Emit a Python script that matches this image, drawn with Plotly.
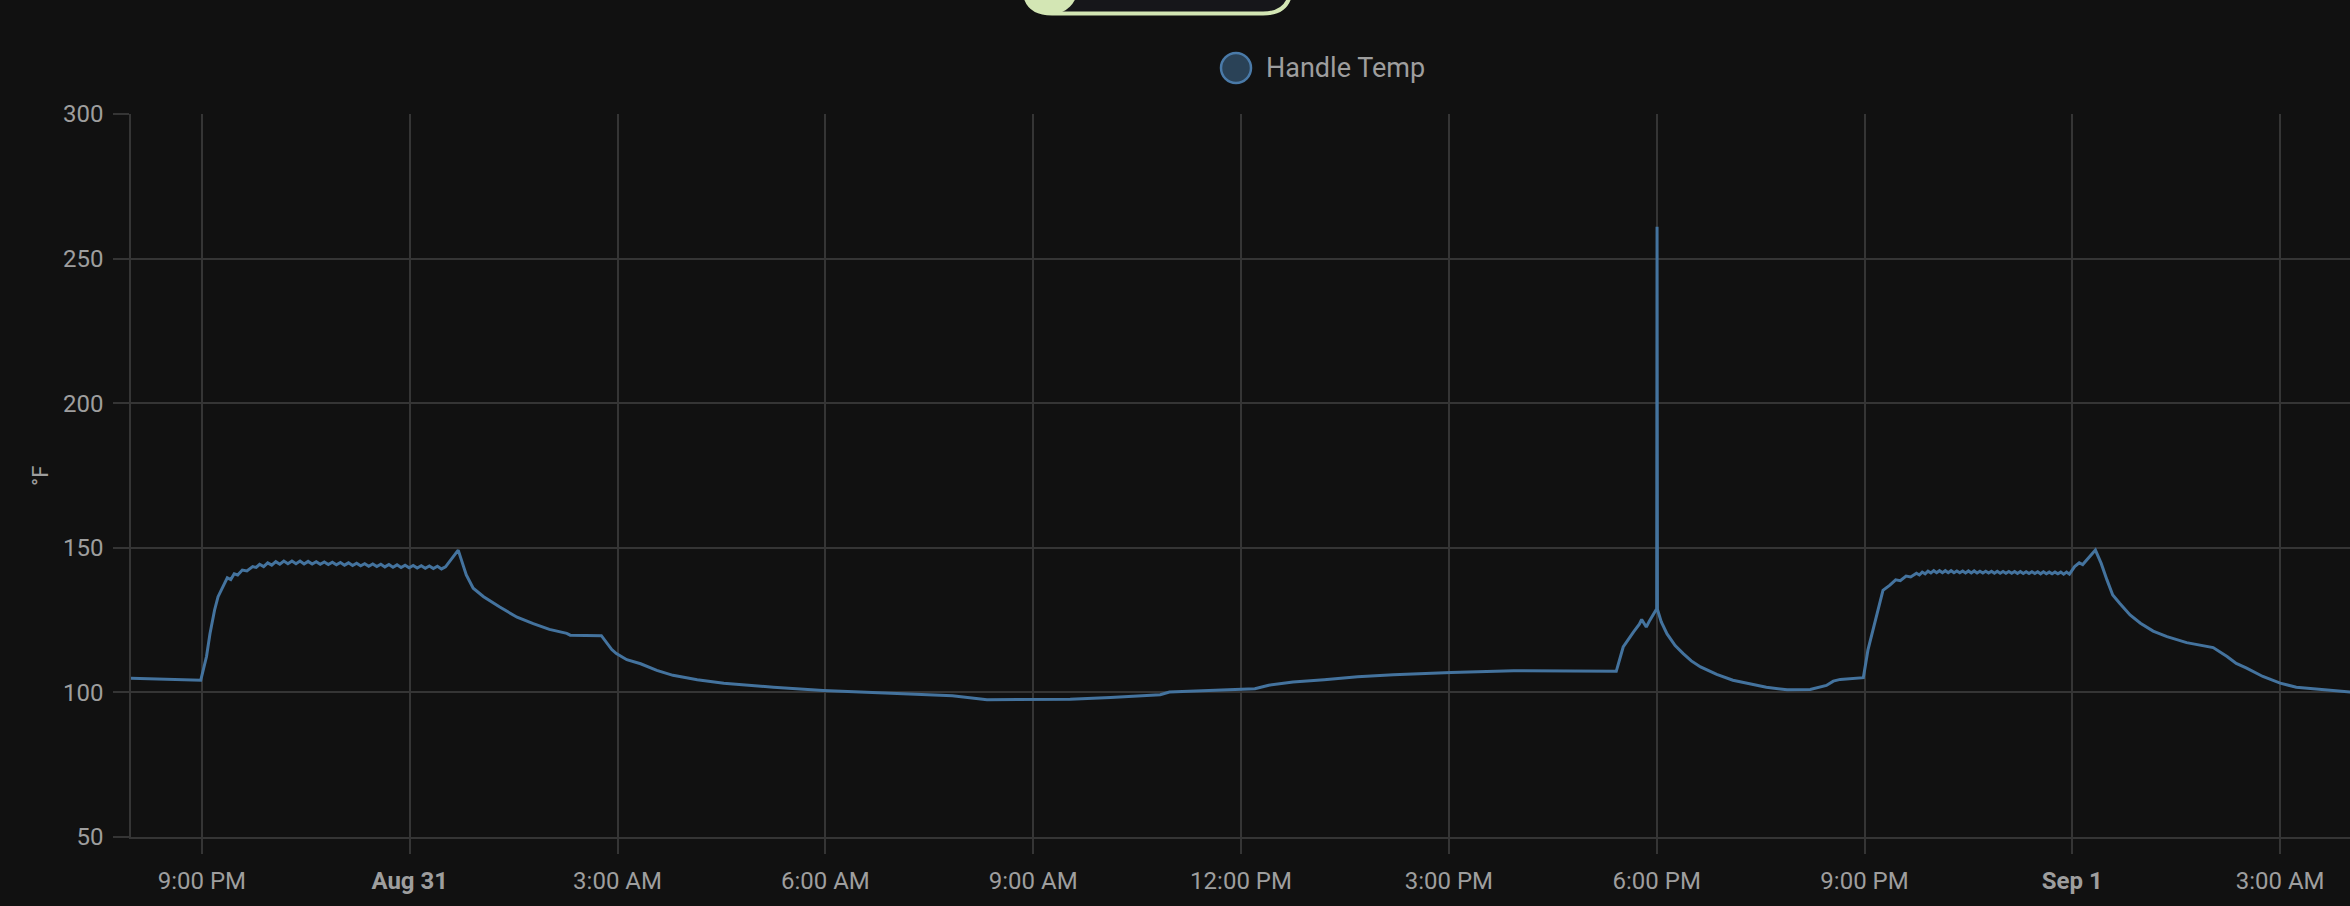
import plotly.graph_objects as go
import pandas as pd

# ---------------- data ----------------
anchor_times = [
    "2023-08-30 19:50", "2023-08-30 20:30", "2023-08-30 20:59", "2023-08-30 21:04",
    "2023-08-30 21:07", "2023-08-30 21:11", "2023-08-30 21:14",
    "2023-08-30 21:19", "2023-08-30 21:22", "2023-08-30 21:25",
    "2023-08-30 21:28", "2023-08-30 21:31", "2023-08-30 21:35", "2023-08-30 21:39",
    "2023-08-30 21:44", "2023-08-30 21:47",
    "2023-08-31 00:42", "2023-08-31 00:45", "2023-08-31 00:49", "2023-08-31 00:55",
    "2023-08-31 01:04", "2023-08-31 01:18", "2023-08-31 01:33", "2023-08-31 01:47",
    "2023-08-31 02:01", "2023-08-31 02:16", "2023-08-31 02:19", "2023-08-31 02:46",
    "2023-08-31 02:51", "2023-08-31 02:55", "2023-08-31 02:59", "2023-08-31 03:08",
    "2023-08-31 03:20", "2023-08-31 03:34", "2023-08-31 03:48", "2023-08-31 04:09",
    "2023-08-31 04:32", "2023-08-31 05:15", "2023-08-31 05:58", "2023-08-31 06:56",
    "2023-08-31 07:49", "2023-08-31 07:50", "2023-08-31 08:20",
    "2023-08-31 09:32", "2023-08-31 10:07", "2023-08-31 10:50", "2023-08-31 10:58",
    "2023-08-31 12:12", "2023-08-31 12:24", "2023-08-31 12:45", "2023-08-31 13:12",
    "2023-08-31 13:41", "2023-08-31 14:12",
    "2023-08-31 15:02", "2023-08-31 15:56", "2023-08-31 17:25", "2023-08-31 17:31",
    "2023-08-31 17:35", "2023-08-31 17:40", "2023-08-31 17:45", "2023-08-31 17:47",
    "2023-08-31 17:51", "2023-08-31 17:54",
    "2023-08-31 18:00:00", "2023-08-31 18:00:20", "2023-08-31 18:00:40",
    "2023-08-31 18:04", "2023-08-31 18:09", "2023-08-31 18:16", "2023-08-31 18:23",
    "2023-08-31 18:30", "2023-08-31 18:38", "2023-08-31 18:52", "2023-08-31 19:06",
    "2023-08-31 19:22", "2023-08-31 19:35", "2023-08-31 19:53", "2023-08-31 20:13",
    "2023-08-31 20:27", "2023-08-31 20:33", "2023-08-31 20:39", "2023-08-31 20:59",
    "2023-08-31 21:03", "2023-08-31 21:08", "2023-08-31 21:12", "2023-08-31 21:16",
    "2023-08-31 21:22", "2023-08-31 21:27", "2023-08-31 21:31", "2023-08-31 21:36",
    "2023-08-31 21:40",
    "2023-09-01 00:02", "2023-09-01 00:06", "2023-09-01 00:09", "2023-09-01 00:20",
    "2023-09-01 00:25", "2023-09-01 00:30", "2023-09-01 00:35", "2023-09-01 00:41",
    "2023-09-01 00:50", "2023-09-01 00:59", "2023-09-01 01:10", "2023-09-01 01:22",
    "2023-09-01 01:39", "2023-09-01 02:02", "2023-09-01 02:14", "2023-09-01 02:22",
    "2023-09-01 02:31", "2023-09-01 02:45", "2023-09-01 03:00", "2023-09-01 03:14",
    "2023-09-01 03:29", "2023-09-01 03:46", "2023-09-01 04:01", "2023-09-01 04:10",
]
anchor_temps = [
    105.0, 104.6, 104.2, 112.4,
    120.3, 128.5, 133.1,
    137.2, 139.6, 139.0,
    141.0, 140.6, 142.3, 142.0,
    143.5, 143.2,
    149.2, 145.5, 140.6, 136.0,
    133.1, 129.5, 126.0, 123.8,
    121.8, 120.4, 119.8, 119.6,
    116.8, 114.8, 113.4, 111.3,
    109.9, 107.6, 105.9, 104.4,
    103.2, 101.8, 100.7, 99.8,
    99.0, 98.8, 97.5,
    97.6, 98.2, 99.2, 100.1,
    101.3, 102.5, 103.6, 104.4,
    105.4, 106.1,
    106.9, 107.5, 107.3, 115.7,
    118.1, 120.9, 123.6, 125.2,
    122.6, 124.9,
    128.9, 261.0, 128.7,
    124.4, 120.2, 116.2, 113.4,
    110.9, 108.8, 106.2, 104.2,
    102.8, 101.8, 100.9, 101.0,
    102.4, 103.9, 104.5, 105.1,
    114.7, 122.6, 129.6, 135.3,
    137.1, 138.9, 138.6, 140.2,
    139.9,
    143.5, 144.8, 144.2, 149.2,
    144.6, 138.9, 133.7, 130.8,
    126.8, 123.9, 121.2, 119.3,
    117.2, 115.5, 112.4, 110.0,
    108.4, 105.5, 103.2, 101.8,
    101.2, 100.5, 100.0, 99.8,
]

# thermostat cycling on the first plateau (sampled every 3.5 min from 21:50)
plateau1_start = "2023-08-30 21:50"
plateau1_step = "210s"
plateau1_temps = [
    144.3, 143.5, 144.8, 144.0, 145.2, 144.3, 145.4, 144.5, 145.4, 144.5,
    145.4, 144.4, 145.3, 144.4, 145.2, 144.3, 145.1, 144.2, 145.0, 144.1,
    144.9, 144.0, 144.8, 143.9, 144.7, 143.8, 144.5, 143.6, 144.4, 143.5,
    144.3, 143.4, 144.2, 143.3, 144.1, 143.2, 144.0, 143.1, 143.9, 143.0,
    143.8, 142.9, 143.7, 142.8, 143.6, 142.7, 143.4,
]

# thermostat cycling on the second plateau (sampled every 2.5 min from 21:45)
plateau2_start = "2023-08-31 21:45"
plateau2_step = "150s"
plateau2_temps = [
    141.2, 140.6, 141.6, 141.0, 141.9, 141.3, 142.1, 141.4, 142.1, 141.4,
    142.1, 141.4, 142.1, 141.4, 142.0, 141.4, 142.0, 141.3, 142.0, 141.3,
    142.0, 141.3, 141.9, 141.3, 141.9, 141.3, 141.9, 141.2, 141.9, 141.2,
    141.8, 141.2, 141.8, 141.2, 141.8, 141.1, 141.8, 141.1, 141.7, 141.1,
    141.7, 141.1, 141.7, 141.0, 141.7, 141.0, 141.6, 141.0, 141.6, 141.0,
    141.6, 140.9, 141.6, 140.9,
]

tick_vals = [
    "2023-08-30 21:00", "2023-08-31 00:00", "2023-08-31 03:00", "2023-08-31 06:00",
    "2023-08-31 09:00", "2023-08-31 12:00", "2023-08-31 15:00", "2023-08-31 18:00",
    "2023-08-31 21:00", "2023-09-01 00:00", "2023-09-01 03:00",
]
tick_text = [
    "9:00 PM", "<b>Aug 31</b>", "3:00 AM", "6:00 AM", "9:00 AM", "12:00 PM",
    "3:00 PM", "6:00 PM", "9:00 PM", "<b>Sep 1</b>", "3:00 AM",
]
y_ticks = [50, 100, 150, 200, 250, 300]
series_name = "Handle Temp"
unit_label = "°F"
x_range = ["2023-08-30 19:58:36", "2023-09-01 04:00:30"]

# ---------------- assemble series ----------------
p1 = pd.Series(plateau1_temps,
               index=pd.date_range(plateau1_start, periods=len(plateau1_temps), freq=plateau1_step))
p2 = pd.Series(plateau2_temps,
               index=pd.date_range(plateau2_start, periods=len(plateau2_temps), freq=plateau2_step))
anc = pd.Series(anchor_temps, index=pd.to_datetime(anchor_times, format="ISO8601"))
series = pd.concat([anc, p1, p2]).sort_index()

# ---------------- figure ----------------
W, H = 2350, 906
ML, MR, MT, MB = 131, 0, 114, 69
PW, PH = W - ML - MR, H - MT - MB

def px(x):
    return (x - ML) / PW

def py(y):
    return (H - MB - y) / PH

BG = "#111111"
GRID = "#353535"
TXT = "#9e9e9e"
LINE = "#44739e"

fig = go.Figure()
fig.add_trace(go.Scatter(
    x=series.index, y=series.values, mode="lines", name=series_name,
    line=dict(color=LINE, width=3), showlegend=False,
))

shapes = []
# legend dot
shapes.append(dict(type="circle", xref="paper", yref="paper",
                   x0=px(1236 - 15), x1=px(1236 + 15), y0=py(68 + 15), y1=py(68 - 15),
                   fillcolor="rgba(68,115,158,0.5)", line=dict(color="#4a7aa8", width=2.5)))

# partially visible toggle button at top
L, R, B, Tp, r = 1024, 1291, 13.5, -60, 28
path = (f"M {px(L)},{py(Tp)} L {px(L)},{py(B - r)} Q {px(L)},{py(B)} {px(L + r)},{py(B)} "
        f"L {px(R - r)},{py(B)} Q {px(R)},{py(B)} {px(R)},{py(B - r)} L {px(R)},{py(Tp)} Z")
shapes.append(dict(type="path", xref="paper", yref="paper", path=path,
                   fillcolor="#16161a", line=dict(color="#d3e6b4", width=4)))
shapes.append(dict(type="circle", xref="paper", yref="paper",
                   x0=px(1022), x1=px(1078), y0=py(15), y1=py(-41),
                   fillcolor="#d3e6b4", line=dict(width=0)))

annotations = [
    dict(text=series_name, xref="paper", yref="paper", x=px(1264), y=py(68),
         xanchor="left", yanchor="middle", showarrow=False,
         font=dict(family="Roboto", size=27, color=TXT)),
    dict(text=unit_label, xref="paper", yref="paper", x=px(40), y=py(476),
         xanchor="center", yanchor="middle", showarrow=False, textangle=-90,
         font=dict(family="Roboto", size=22, color=TXT)),
]

fig.update_layout(
    width=W, height=H,
    margin=dict(l=ML, r=MR, t=MT, b=MB, pad=0),
    paper_bgcolor=BG, plot_bgcolor=BG,
    font=dict(family="Roboto", size=24, color=TXT),
    shapes=shapes, annotations=annotations,
    showlegend=False,
)
fig.update_xaxes(
    range=x_range, tickmode="array", tickvals=tick_vals, ticktext=tick_text,
    showgrid=True, gridcolor=GRID, gridwidth=1.5,
    ticks="outside", ticklen=15, tickcolor=GRID, tickwidth=1.5,
    showline=True, linecolor=GRID, linewidth=1.5, zeroline=False,
    tickfont=dict(family="Roboto", size=24, color=TXT), ticklabelstandoff=6,
)
fig.update_yaxes(
    range=[50, 300], tickmode="array", tickvals=y_ticks,
    showgrid=True, gridcolor=GRID, gridwidth=1.5,
    ticks="outside", ticklen=16, tickcolor=GRID, tickwidth=1.5,
    showline=True, linecolor=GRID, linewidth=1.5, zeroline=False,
    tickfont=dict(family="Roboto", size=24, color=TXT), ticklabelstandoff=5,
)

fig.write_html("out.html")
